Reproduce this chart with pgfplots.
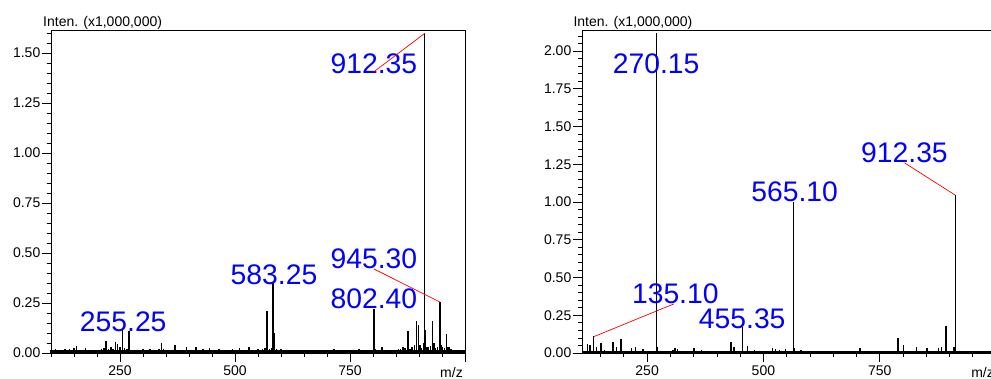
\documentclass[border=0pt]{standalone}
\usepackage{fontspec}
\setmainfont{Liberation Sans}
\usepackage{pgfplots}
\pgfplotsset{compat=1.18}
\begin{document}
\begin{tikzpicture}
\pgfplotsset{
  spec/.style={
    scale only axis, width=414pt, height=323pt,
    axis line style={line width=0.9pt},
    tick align=outside, xtick pos=lower, ytick pos=left,
    major tick length=9pt, minor tick length=4.5pt,
    tick style={black, line width=0.8pt},
    ticklabel style={font=\fontsize{14}{16}\selectfont},
    yticklabel style={inner sep=1.5pt},
    /pgf/number format/assume math mode=true,
    yticklabel={\pgfmathprintnumber[fixed,fixed zerofill,precision=2]{\tick}},
    xtick={250,500,750,1000},
    xticklabels={250,500,750,{}},
    minor xtick={100,150,...,1000},
    ymin=0, clip=false,
  },
}
\tikzset{
  plab/.style={anchor=base, text=blue, inner sep=0pt, font=\fontsize{28.3}{30}\selectfont},
  ylab/.style={anchor=base west, inner sep=0pt, font=\fontsize{14}{16}\selectfont},
}
\useasboundingbox (0pt,0pt) rectangle (991pt,379pt);
% ---------------- left panel ----------------
\begin{axis}[spec, at={(51pt,26pt)}, anchor=south west,
  xmin=100, xmax=1000, ymax=1.615,
  ytick={0,0.25,0.5,0.75,1,1.25,1.5},
  minor ytick={0.05,0.1,0.15,0.2,0.3,0.35,0.4,0.45,0.55,0.6,0.65,0.7,0.8,0.85,0.9,0.95,1.05,1.1,1.15,1.2,1.3,1.35,1.4,1.45,1.55,1.6}]
\addplot[black, line width=2.6pt, mark=none] coordinates {(100,0.0065)(1000,0.0065)};
\addplot[ycomb, black, line width=1.5pt, mark=none] coordinates {
(100,0.016)(105,0.012)(110,0.018)(115,0.014)(120,0.017)(125,0.013)(130,0.020)(135,0.015)(140,0.018)(145,0.014)
(150,0.024)(155,0.035)(160,0.016)(165,0.013)(170,0.017)(175,0.026)(180,0.015)(185,0.012)(190,0.016)(195,0.014)
(200,0.016)(205,0.013)(210,0.019)(215,0.024)(220,0.060)(225,0.022)(230,0.030)(235,0.018)(240,0.055)(245,0.045)
(250,0.032)(260,0.027)(265,0.018)(275,0.016)(280,0.014)(285,0.017)(290,0.015)(295,0.013)
(300,0.018)(305,0.015)(310,0.012)(315,0.022)(320,0.017)(325,0.014)(330,0.016)(335,0.020)(340,0.050)(345,0.018)
(350,0.015)(355,0.013)(360,0.016)(365,0.014)(370,0.040)(375,0.017)(380,0.014)(385,0.015)(390,0.013)(395,0.028)
(400,0.015)(405,0.017)(410,0.014)(415,0.028)(420,0.015)(425,0.013)(430,0.018)(435,0.014)(440,0.016)(445,0.025)
(450,0.015)(455,0.013)(460,0.016)(465,0.019)(470,0.014)(475,0.017)(480,0.013)(485,0.015)(490,0.014)(495,0.018)
(500,0.015)(505,0.016)(510,0.027)(515,0.014)(520,0.015)(525,0.013)(530,0.031)(535,0.017)(540,0.014)(545,0.015)
(550,0.018)(555,0.015)(560,0.022)(565,0.027)(575,0.020)(580,0.024)(590,0.018)(595,0.015)
(600,0.022)(605,0.014)(610,0.015)(615,0.013)(620,0.017)(625,0.014)(630,0.014)(635,0.012)(640,0.015)(645,0.013)
(650,0.014)(655,0.011)(660,0.014)(665,0.015)(670,0.012)(675,0.014)(680,0.013)(685,0.011)(690,0.014)(695,0.015)
(700,0.012)(705,0.014)(710,0.013)(715,0.019)(720,0.012)(725,0.014)(730,0.015)(735,0.012)(740,0.013)(745,0.014)
(750,0.014)(755,0.011)(760,0.015)(765,0.013)(770,0.019)(775,0.014)(780,0.012)(785,0.014)(790,0.013)(795,0.015)
(800,0.017)(805,0.020)(810,0.014)(815,0.015)(820,0.030)(825,0.014)(830,0.013)(835,0.014)(840,0.015)(845,0.012)
(850,0.014)(855,0.018)(860,0.022)(865,0.030)(870,0.027)(880,0.020)(885,0.030)(890,0.040)
(905,0.027)(910,0.050)(920,0.032)(925,0.036)(935,0.027)(940,0.032)
(950,0.032)(955,0.027)(965,0.030)(970,0.018)(975,0.015)(980,0.014)(985,0.012)(990,0.013)(995,0.011)(1000,0.010)
};
\addplot[ycomb, black, line width=1.6pt, mark=none] coordinates {
(255.25,0.118)(270.1,0.110)(569.2,0.210)(583.25,0.350)(585.5,0.100)
(802.4,0.220)(821,0.030)(876,0.110)(895,0.160)(899,0.140)(902,0.040)
(912.35,1.598)(914,0.115)(917,0.030)(929,0.160)(932,0.050)(945.3,0.255)(948,0.040)(960,0.095)(963,0.030)};
\node[plab] at (axis cs:802,1.395) {912.35};
\node[plab] at (axis cs:802,0.42) {945.30};
\node[plab] at (axis cs:802,0.22) {802.40};
\node[plab] at (axis cs:584.8,0.34) {583.25};
\node[plab] at (axis cs:257,0.107) {255.25};
\addplot[red, line width=0.7pt, mark=none] coordinates {(912.35,1.598)(802.2,1.4065)};
\addplot[red, line width=0.7pt, mark=none] coordinates {(945.3,0.255)(802.2,0.42)};
\node[ylab] at (rel axis cs:0,1) [xshift=-8pt, yshift=3.3pt] {Inten. (x1,000,000)};
\node[anchor=base east, inner sep=0pt, font=\fontsize{14}{16}\selectfont] at (rel axis cs:1,0) [xshift=-2pt, yshift=-25pt] {m/z};
\end{axis}
% ---------------- right panel ----------------
\begin{axis}[spec, at={(582pt,26pt)}, anchor=south west,
  xmin=110, xmax=1000, ymax=2.14,
  ytick={0,0.25,0.5,0.75,1,1.25,1.5,1.75,2},
  minor ytick={0.05,0.1,0.15,0.2,0.3,0.35,0.4,0.45,0.55,0.6,0.65,0.7,0.8,0.85,0.9,0.95,1.05,1.1,1.15,1.2,1.3,1.35,1.4,1.45,1.55,1.6,1.65,1.7,1.8,1.85,1.9,1.95,2.05,2.1}]
\addplot[black, line width=2.2pt, mark=none] coordinates {(110,0.0073)(1000,0.0073)};
\addplot[ycomb, black, line width=1.4pt, mark=none] coordinates {
(111,0.040)(122,0.060)(127,0.050)(135.1,0.110)(141.5,0.040)(151,0.065)(158,0.020)(177,0.070)(184,0.040)(193.7,0.095)
(205,0.015)(216.6,0.030)(225,0.040)(233,0.015)(241.5,0.025)(258,0.015)(270.15,2.120)(272,0.040)
(306,0.020)(310,0.030)(315,0.025)(351,0.035)(367,0.020)(430,0.075)(437,0.040)(455.35,0.170)(465.6,0.045)(481,0.020)
(519,0.030)(526,0.025)(535,0.020)(548,0.025)(565.1,1.000)(567,0.030)(581,0.020)
(708,0.030)(760,0.015)(789,0.097)(801,0.053)(815,0.012)(829.5,0.040)(848,0.015)(852,0.035)(876,0.030)(883,0.040)
(892.6,0.180)(910,0.040)(912.35,1.046)};
\node[plab] at (axis cs:269.5,1.852) {270.15};
\node[plab] at (axis cs:803.2,1.26) {912.35};
\node[plab] at (axis cs:567,1.007) {565.10};
\node[plab] at (axis cs:310.6,0.325) {135.10};
\node[plab] at (axis cs:454.4,0.164) {455.35};
\addplot[red, line width=0.7pt, mark=none] coordinates {(912.35,1.046)(803.2,1.26)};
\addplot[red, line width=0.7pt, mark=none] coordinates {(135.1,0.108)(307.4,0.325)};
\node[ylab] at (rel axis cs:0,1) [xshift=-8.7pt, yshift=3.3pt] {Inten. (x1,000,000)};
\node[anchor=base east, inner sep=0pt, font=\fontsize{14}{16}\selectfont] at (rel axis cs:1,0) [xshift=-2pt, yshift=-25pt] {m/z};
\end{axis}
\end{tikzpicture}
\end{document}
